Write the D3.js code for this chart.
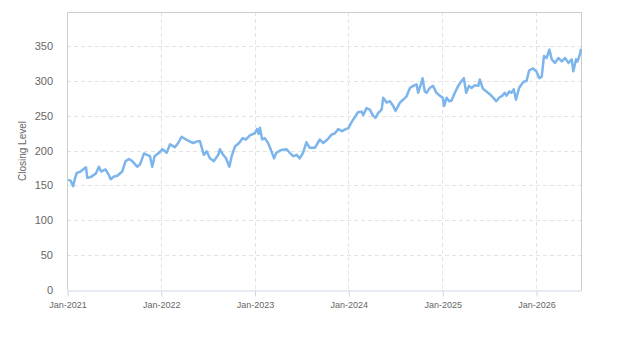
<!DOCTYPE html>
<html>
<head>
<meta charset="utf-8">
<script src="https://cdn.jsdelivr.net/npm/d3@7"></script>
<style>
  body { margin: 0; background: #fff; }
  svg { display: block; font-family: "Liberation Sans", Arial, sans-serif; }
</style>
</head>
<body>
<svg id="chart" width="623" height="350"></svg>
<script>
// closing level
const dates = [
  '2021-01-05', '2021-01-15', '2021-01-25', '2021-02-01', '2021-02-08', '2021-02-23',
  '2021-03-08', '2021-03-16', '2021-03-21', '2021-04-03', '2021-04-23', '2021-05-05',
  '2021-05-14', '2021-05-31', '2021-06-13', '2021-06-20', '2021-07-03', '2021-07-16',
  '2021-08-04', '2021-08-17', '2021-08-30', '2021-09-12', '2021-10-01', '2021-10-12',
  '2021-10-28', '2021-11-09', '2021-11-20', '2021-11-29', '2021-12-08', '2021-12-25',
  '2022-01-08', '2022-01-24', '2022-02-06', '2022-02-25', '2022-03-10', '2022-03-23',
  '2022-04-05', '2022-04-25', '2022-05-07', '2022-05-21', '2022-06-02', '2022-06-09',
  '2022-06-18', '2022-06-29', '2022-07-11', '2022-07-27', '2022-08-13', '2022-08-19',
  '2022-09-01', '2022-09-12', '2022-09-25', '2022-10-04', '2022-10-17', '2022-11-02',
  '2022-11-16', '2022-11-28', '2022-12-14', '2023-01-02', '2023-01-11', '2023-01-17',
  '2023-01-22', '2023-01-31', '2023-02-10', '2023-02-23', '2023-03-08', '2023-03-18',
  '2023-03-27', '2023-04-16', '2023-05-06', '2023-05-18', '2023-05-31', '2023-06-14',
  '2023-06-26', '2023-07-09', '2023-07-22', '2023-08-04', '2023-08-24', '2023-09-12',
  '2023-09-25', '2023-10-12', '2023-10-28', '2023-11-10', '2023-11-23', '2023-12-08',
  '2023-12-22', '2024-01-01', '2024-01-14', '2024-01-26', '2024-02-08', '2024-02-22',
  '2024-02-28', '2024-03-12', '2024-03-25', '2024-04-07', '2024-04-16', '2024-04-26',
  '2024-05-10', '2024-05-16', '2024-05-29', '2024-06-11', '2024-06-24', '2024-07-03',
  '2024-07-20', '2024-08-01', '2024-08-15', '2024-08-28', '2024-09-10', '2024-09-23',
  '2024-09-29', '2024-10-12', '2024-10-16', '2024-10-25', '2024-11-01', '2024-11-13',
  '2024-11-26', '2024-12-09', '2024-12-22', '2025-01-03', '2025-01-08', '2025-01-18',
  '2025-01-28', '2025-02-06', '2025-02-19', '2025-03-04', '2025-03-17', '2025-03-26',
  '2025-04-04', '2025-04-15', '2025-04-25', '2025-05-08', '2025-05-21', '2025-05-27',
  '2025-06-08', '2025-06-22', '2025-07-05', '2025-07-18', '2025-07-30', '2025-08-10',
  '2025-08-23', '2025-09-01', '2025-09-08', '2025-09-19', '2025-09-27', '2025-10-06',
  '2025-10-15', '2025-10-27', '2025-11-05', '2025-11-14', '2025-11-25', '2025-12-05',
  '2025-12-20', '2026-01-02', '2026-01-14', '2026-01-23', '2026-02-01', '2026-02-11',
  '2026-02-22', '2026-03-03', '2026-03-16', '2026-03-29', '2026-04-11', '2026-04-24',
  '2026-05-07', '2026-05-20', '2026-05-26', '2026-06-06', '2026-06-11', '2026-06-19',
  '2026-06-25'
];

const closing = [
  158, 157, 149, 160, 168, 170,
  174, 176, 161, 162, 167, 177,
  170, 173, 165, 159, 163, 164,
  170, 185, 188, 185, 177, 180,
  196, 194, 192, 177, 192, 197,
  202, 197, 209, 205, 211, 220,
  217, 213, 211, 213, 214, 205,
  194, 199, 189, 185, 194, 202,
  194, 189, 177, 192, 206, 211,
  218, 216, 222, 225, 231, 224,
  233, 216, 218, 211, 199, 189,
  197, 201, 202, 197, 192, 194,
  189, 197, 212, 204, 204, 216,
  211, 216, 223, 225, 231, 228,
  231, 232, 241, 248, 255, 256,
  251, 261, 259, 250, 247, 254,
  259, 276, 269, 271, 264, 257,
  269, 273, 278, 290, 293, 295,
  283, 298, 304, 285, 283, 290,
  293, 283, 279, 276, 264, 276,
  271, 272, 283, 293, 300, 304,
  283, 293, 290, 294, 293, 302,
  289, 285, 281, 276, 271, 276,
  279, 283, 279, 285, 283, 288,
  273, 290, 295, 299, 300, 315,
  318, 314, 304, 306, 336, 333,
  345, 331, 326, 333, 328, 333,
  326, 331, 314, 331, 328, 336,
  346
];

const yTicks = [0, 50, 100, 150, 200, 250, 300, 350];
const xTickYears = [2021, 2022, 2023, 2024, 2025, 2026];
const yTitle = 'Closing Level';

const parse = d3.timeParse('%Y-%m-%d');
const data = dates.map((d, i) => ({ date: parse(d), value: closing[i] }));

const margin = { top: 12, right: 42, bottom: 60, left: 67 };
const width = 623 - margin.left - margin.right;
const height = 350 - margin.top - margin.bottom;

const svg = d3.select('#chart');
const g = svg.append('g')
    .attr('transform', `translate(${margin.left}, ${margin.top})`);

// scales

const x = d3.scaleTime()
    .domain([new Date(2021, 0, 1), d3.max(data, d => d.date)])
    .range([0, width]);

const y = d3.scaleLinear()
    .domain([0, 399])
    .range([height, 0]);

const gridColor = '#e3e3e3';
const axisColor = '#ccd6eb';
const textColor = '#666';

// grid

g.append('g')
  .selectAll('line')
  .data(yTicks.slice(1))
  .join('line')
    .attr('x1', 0)
    .attr('x2', width)
    .attr('y1', d => Math.round(y(d)) + 0.5)
    .attr('y2', d => Math.round(y(d)) + 0.5)
    .attr('stroke', gridColor)
    .attr('stroke-dasharray', '4,3');

const xTicks = xTickYears.map(yr => new Date(yr, 0, 1));

g.append('g')
  .selectAll('line')
  .data(xTicks.slice(1))
  .join('line')
    .attr('x1', d => Math.round(x(d)) + 0.5)
    .attr('x2', d => Math.round(x(d)) + 0.5)
    .attr('y1', 0)
    .attr('y2', height)
    .attr('stroke', gridColor)
    .attr('stroke-dasharray', '4,3');

// frame (left, top, right)

g.append('path')
    .attr('d', `M0.5,${height} V0.5 H${width + 0.5} V${height}`)
    .attr('fill', 'none')
    .attr('stroke', '#ccc');

// x axis

const xAxis = d3.axisBottom(x)
    .tickValues(xTicks)
    .tickFormat(d3.timeFormat('%b-%Y'))
    .tickSize(6)
    .tickSizeOuter(0);

g.append('g')
    .attr('transform', `translate(0.5, ${height + 0.5})`)
    .call(xAxis)
    .call(a => a.select('.domain').attr('stroke', axisColor))
    .call(a => a.selectAll('.tick line').attr('stroke', axisColor))
    .call(a => a.selectAll('.tick text')
        .attr('fill', textColor)
        .attr('font-size', 9)
        .attr('dy', '0.71em')
        .attr('y', 11.5));

// y axis labels

g.append('g')
  .selectAll('text')
  .data(yTicks)
  .join('text')
    .attr('x', -14)
    .attr('y', d => y(d))
    .attr('dy', '0.35em')
    .attr('text-anchor', 'end')
    .attr('fill', textColor)
    .attr('font-size', 11)
    .text(d => d);

g.append('text')
    .attr('transform', `translate(${-41}, ${height / 2}) rotate(-90)`)
    .attr('text-anchor', 'middle')
    .attr('fill', textColor)
    .attr('font-size', 10)
    .text(yTitle);

// line

const line = d3.line()
    .x(d => x(d.date))
    .y(d => y(d.value));

g.append('path')
    .datum(data)
    .attr('fill', 'none')
    .attr('stroke', '#7cb5ec')
    .attr('stroke-width', 2.5)
    .attr('stroke-linejoin', 'round')
    .attr('d', line);
</script>
</body>
</html>
